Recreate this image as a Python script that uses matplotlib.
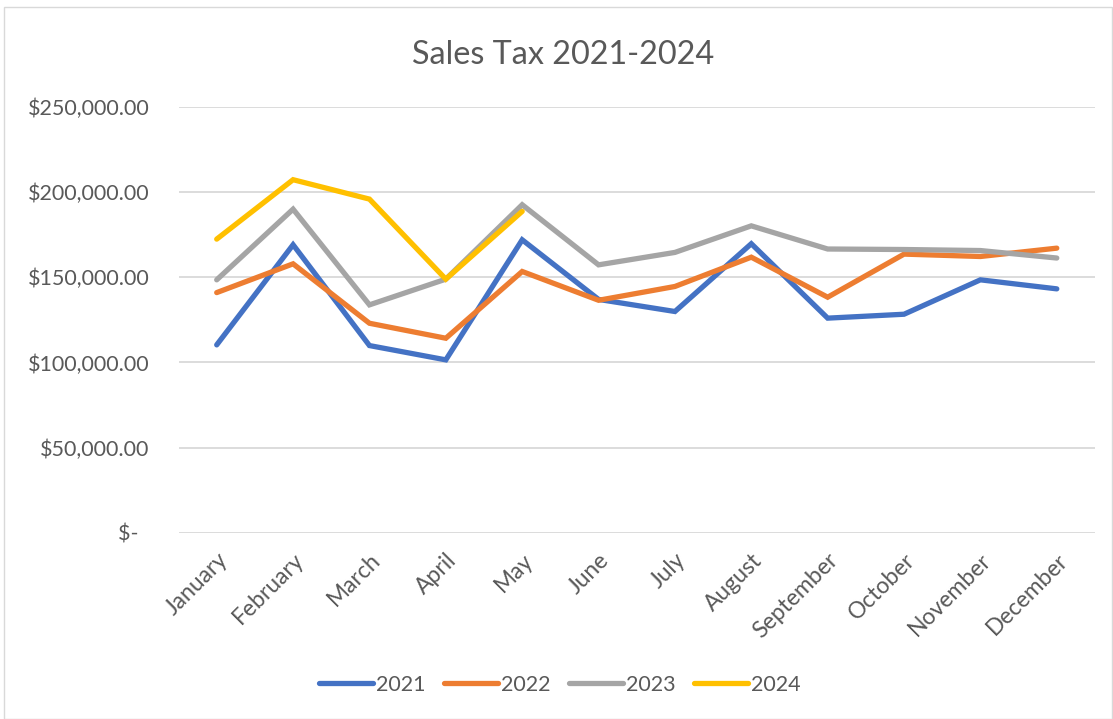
import matplotlib
matplotlib.use("Agg")
import matplotlib.pyplot as plt
from matplotlib.patches import Rectangle
from matplotlib.ticker import FuncFormatter

# ── data ─────────────────────────────────────────────────────────────────────
MONTHS = ['January', 'February', 'March', 'April', 'May', 'June', 'July',
          'August', 'September', 'October', 'November', 'December']

TAX_2021 = [110300, 169100, 109900, 101500, 172000, 137000, 129900,
            169700, 126000, 128300, 148500, 143200]
TAX_2022 = [141000, 157900, 123000, 114200, 153400, 136500, 144600,
            161800, 138300, 163600, 162200, 167100]
TAX_2023 = [148500, 190000, 133800, 148900, 192600, 157300, 164600,
            180200, 166600, 166300, 165700, 161300]
TAX_2024 = [172400, 207300, 195900, 148900, 188700]

SERIES = [('2021', TAX_2021, '#4472C4'),
          ('2022', TAX_2022, '#ED7D31'),
          ('2023', TAX_2023, '#A5A5A5'),
          ('2024', TAX_2024, '#FFC000')]

Y_TICKS = [0, 50000, 100000, 150000, 200000, 250000]

TC = '#595959'
GC = '#D9D9D9'
plt.rcParams['font.family'] = ['Lato', 'DejaVu Sans']

fig = plt.figure(figsize=(11.13, 7.19), dpi=100)
ax = fig.add_axes([0.1604, 0.2591, 0.8234, 0.5921])

x = list(range(len(MONTHS)))
for name, vals, col in SERIES:
    ax.plot(x[:len(vals)], vals, color=col, lw=3.8, label=name,
            solid_capstyle='round', solid_joinstyle='miter', zorder=3)

ax.set_xlim(-0.5, len(MONTHS) - 0.5)
ax.set_ylim(0, 250000)
ax.set_yticks(Y_TICKS)


def money(v, _):
    if v == 0:
        return '$-  '
    return f'${v:,.2f}'


ax.yaxis.set_major_formatter(FuncFormatter(money))
ax.grid(axis='y', color=GC, lw=1.3, zorder=0)
ax.set_axisbelow(True)
for sp in ax.spines.values():
    sp.set_visible(False)
ax.tick_params(axis='both', length=0, colors=TC)
ax.tick_params(axis='y', pad=21, labelsize=15.5)
ax.tick_params(axis='x', pad=12, labelsize=16.5)

ax.set_xticks(x)
ax.set_xticklabels(MONTHS, rotation=45, ha='right', rotation_mode='anchor')

fig.text(0.506, 1 - 64 / 719, 'Sales Tax 2021-2024', color=TC, fontsize=23.3,
         ha='center', va='baseline')

leg = fig.legend(loc='center', bbox_to_anchor=(0.503, 1 - 685 / 719), ncol=4,
                 frameon=False, fontsize=15.5, handlelength=2.5,
                 columnspacing=0.85, handletextpad=0.15)
for t in leg.get_texts():
    t.set_color(TC)

fig.patches.append(Rectangle((0.004, 0.0), 0.995, 0.99, transform=fig.transFigure,
                             fill=False, edgecolor=GC, lw=1.0))

fig.savefig('out.png', dpi=100)
